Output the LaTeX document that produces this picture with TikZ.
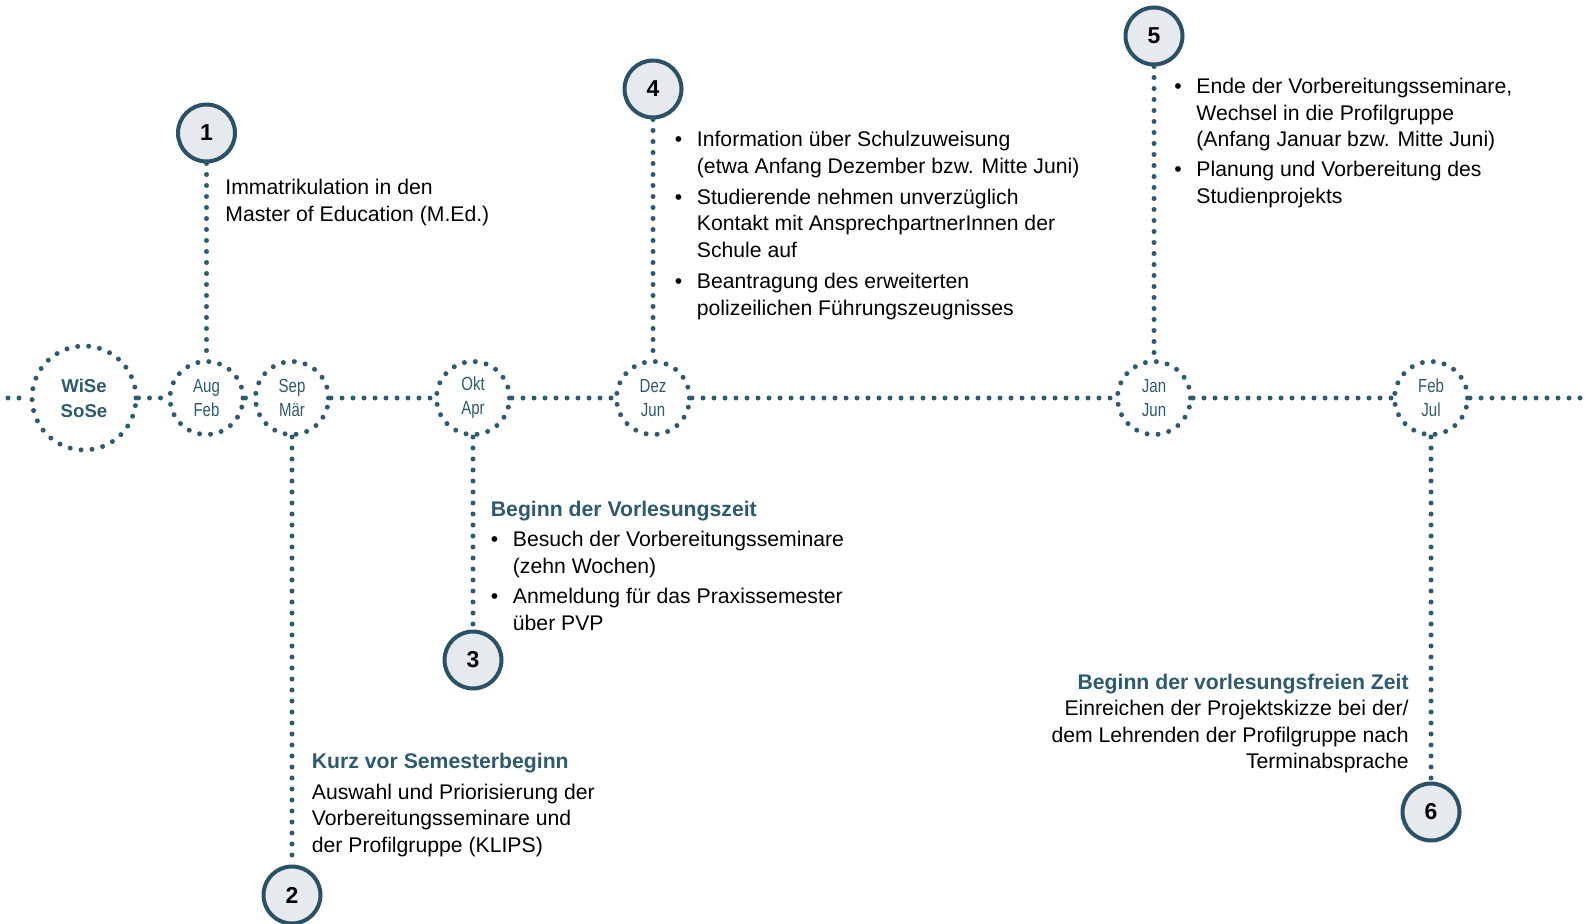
\documentclass[tikz,border=0pt]{standalone}
\usepackage{fontspec}
\setmainfont{Liberation Sans}
\newfontfamily\narrowfont[FakeStretch=0.79]{Liberation Sans}
\usepackage{tikz}
\usetikzlibrary{positioning}

\definecolor{tealc}{HTML}{2D5A6E}
\definecolor{rimc}{HTML}{2A5165}
\definecolor{stepfill}{HTML}{E6EAEE}
\newcommand{\bul}{\makebox[11pt][l]{\textbullet}}
\newcommand{\ind}{\hspace*{11pt}}
\newcommand{\heading}[1]{{\color{tealc}\bfseries #1}}

\begin{document}
\begin{tikzpicture}[x=0.5pt, y=-0.5pt,
  dotline/.style={draw=tealc, line width=2.5pt, line cap=round, dash pattern=on 0pt off 5.5pt},
  month/.style={circle, dotline, minimum size=36.5pt, inner sep=0pt, align=center, text=tealc,
    font=\narrowfont\fontsize{9.5}{12}\selectfont},
  season/.style={month, minimum size=52pt, font=\bfseries\fontsize{9.3}{12.5}\selectfont},
  stepnum/.style={circle, draw=rimc, line width=2pt, fill=stepfill, minimum size=28.5pt,
    inner sep=0pt, font=\bfseries\fontsize{11.5}{13}\selectfont},
  info/.style={inner sep=0pt, align=left, font=\fontsize{10.6}{13.25}\selectfont}]
\useasboundingbox (0,0) rectangle (1588,924);
% nodes

\node[season] (wise) at (84,398) {WiSe\\SoSe};
\node[month] (aug) at (206.5,398) {Aug\\Feb};
\node[month] (sep) at (292,398) {Sep\\Mär};
\node[month] (okt) at (473,398) {Okt\\Apr};
\node[month] (dez) at (653,398) {Dez\\Jun};
\node[month] (jan) at (1154,398) {Jan\\Jun};
\node[month] (feb) at (1431,398) {Feb\\Jul};

\coordinate (lend) at (8,398);
\coordinate (rend) at (1586,398);

\node[stepnum] (s1) at (206.5,133) {1};
\node[stepnum] (s2) at (292,895) {2};
\node[stepnum] (s3) at (473,660) {3};
\node[stepnum] (s4) at (653,89) {4};
\node[stepnum] (s5) at (1154,36) {5};
\node[stepnum] (s6) at (1431,812) {6};

\node[info, anchor=north west] (t1) at (225,179) {Immatrikulation in den\\Master of Education (M.Ed.)};
\node[info, anchor=north west] (t2) at (311.5,752.5) {\heading{Kurz vor Semesterbeginn}\\[2.2pt]
  Auswahl und Priorisierung der\\Vorbereitungsseminare und\\der Profilgruppe (KLIPS)};
\node[info, anchor=north west] (t3) at (490.5,501) {\heading{Beginn der Vorlesungszeit}\\[1.8pt]
  \bul Besuch der Vorbereitungsseminare\\\ind (zehn Wochen)\\[2pt]
  \bul Anmeldung für das Praxissemester\\\ind über PVP};
\node[info, anchor=north west] (t4) at (674.5,131) {\bul Information über Schulzuweisung\\
  \ind (etwa Anfang Dezember bzw. Mitte Juni)\\[2.2pt]
  \bul Studierende nehmen unverzüglich\\\ind Kontakt mit AnsprechpartnerInnen der\\\ind Schule auf\\[2.5pt]
  \bul Beantragung des erweiterten\\\ind polizeilichen Führungszeugnisses};
\node[info, anchor=north west] (t5) at (1174,78) {\bul Ende der Vorbereitungsseminare,\\
  \ind Wechsel in die Profilgruppe\\\ind (Anfang Januar bzw. Mitte Juni)\\[1.8pt]
  \bul Planung und Vorbereitung des\\\ind Studienprojekts};
\node[info, anchor=north east, align=right] (t6) at (1409,673.5) {\heading{Beginn der vorlesungsfreien Zeit}\\
  Einreichen der Projektskizze bei der/\\dem Lehrenden der Profilgruppe nach\\Terminabsprache};

% arrows
\draw[dotline] (lend) -- (wise);
\draw[dotline] (wise) -- (aug);
\draw[dotline] (aug) -- (sep);
\draw[dotline] (sep) -- (okt);
\draw[dotline] (okt) -- (dez);
\draw[dotline] (dez) -- (jan);
\draw[dotline] (jan) -- (feb);
\draw[dotline] (feb) -- (rend);

\draw[dotline] (s1) -- (aug);
\draw[dotline] (sep) -- (s2);
\draw[dotline] (okt) -- (s3);
\draw[dotline] (s4) -- (dez);
\draw[dotline] (s5) -- (jan);
\draw[dotline] (feb) -- (s6);
\end{tikzpicture}
\end{document}
